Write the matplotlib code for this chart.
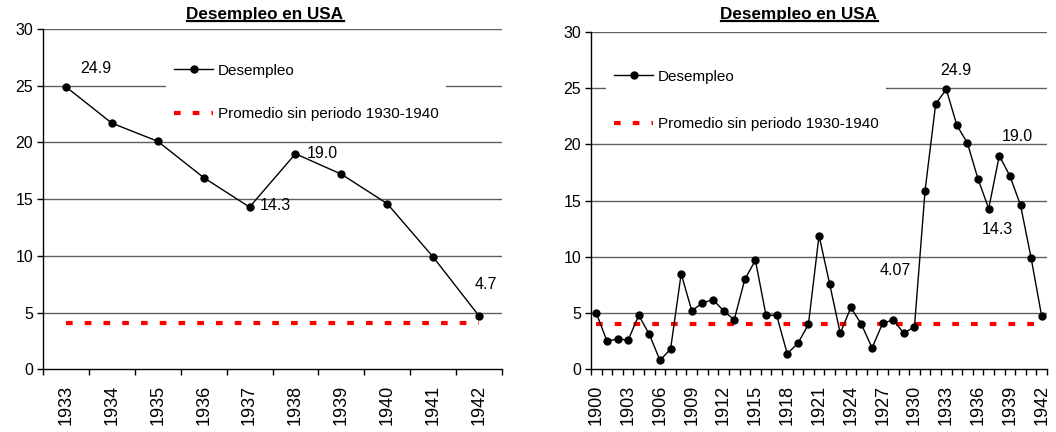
import matplotlib
matplotlib.use("Agg")
import matplotlib.pyplot as plt
from matplotlib.lines import Line2D

plt.rcParams['font.family'] = ['Liberation Sans', 'DejaVu Sans']

# datos
anios_izq = ["1933", "1934", "1935", "1936", "1937", "1938", "1939", "1940", "1941", "1942"]
desempleo_izq = [24.9, 21.7, 20.1, 16.9, 14.3, 19.0, 17.2, 14.6, 9.9, 4.7]

anios_der = [str(a) for a in range(1900, 1943)]
desempleo_der = [5.0, 2.5, 2.7, 2.6, 4.8, 3.1, 0.8, 1.8, 8.5, 5.2,
                 5.9, 6.2, 5.2, 4.4, 8.0, 9.7, 4.8, 4.8, 1.4, 2.3,
                 4.0, 11.9, 7.6, 3.2, 5.5, 4.0, 1.9, 4.1, 4.4, 3.2,
                 3.8, 15.9, 23.6, 24.9, 21.7, 20.1, 16.9, 14.3, 19.0, 17.2,
                 14.6, 9.9, 4.7]
promedio = 4.07

etiquetas_izq = [(0, "24.9"), (5, "19.0"), (4, "14.3"), (9, "4.7")]
etiquetas_der = [(33, "24.9"), (38, "19.0"), (37, "14.3")]

FS_Y = 11.5
FS_X = 13
FS_LEG = 11
FS_DAT = 11.5

fig = plt.figure(figsize=(10.56, 4.32), dpi=100)
ax1 = fig.add_axes([0.0407, 0.1451, 0.4347, 0.7878])
ax2 = fig.add_axes([0.5597, 0.1451, 0.4318, 0.7808])


def preparar(ax, cats, vals, paso, leg_anchor, spacing):
    n = len(cats)
    x = list(range(n))
    for g in range(5, 31, 5):
        ax.axhline(g, color='#606060', lw=1, zorder=1)
    ax.plot(x, vals, color='black', lw=1, marker='o', markersize=5,
            label='Desempleo', zorder=3)
    ax.plot([0, n - 1], [promedio, promedio], color='red', lw=3,
            dashes=[1.6, 2.9], label='Promedio sin periodo 1930-1940', zorder=2)
    ax.set_xlim(-0.5, n - 0.5)
    ax.set_ylim(0, 30)
    ax.set_yticks(range(0, 31, 5))
    ax.set_xticks(x[::paso])
    ax.set_xticklabels(cats[::paso], rotation=90)
    ax.set_xticks([i - 0.5 for i in range(n + 1)], minor=True)
    ax.tick_params(axis='x', which='major', length=0, pad=11, labelsize=FS_X)
    ax.tick_params(axis='x', which='minor', length=4, width=1, direction='out')
    ax.tick_params(axis='y', length=4, width=1, pad=3, labelsize=FS_Y)
    for s in ['top', 'right']:
        ax.spines[s].set_visible(False)
    for s in ['left', 'bottom']:
        ax.spines[s].set_linewidth(1)
    leg = ax.legend(loc='upper left', bbox_to_anchor=leg_anchor, borderaxespad=0,
                    frameon=True, fancybox=False, edgecolor='none', facecolor='white',
                    framealpha=1, fontsize=FS_LEG, handlelength=2.6, handletextpad=0.3,
                    labelspacing=spacing, borderpad=0.5)
    leg.set_zorder(4)


preparar(ax1, anios_izq, desempleo_izq, 1, (0.268, 0.921), 1.94)
preparar(ax2, anios_der, desempleo_der, 3, (0.033, 0.911), 2.2)

pos_izq = {0: (0.65, 26.5), 5: (5.58, 19.0), 4: (4.57, 14.4), 9: (9.15, 7.5)}
for i, t in etiquetas_izq:
    ax1.text(*pos_izq[i], t, ha='center', va='center', fontsize=FS_DAT, zorder=5)
pos_der = {33: (33.9, 26.6), 38: (39.7, 20.75), 37: (37.8, 12.45)}
for i, t in etiquetas_der:
    ax2.text(*pos_der[i], t, ha='center', va='center', fontsize=FS_DAT, zorder=5)
ax2.text(28.2, 8.8, "4.07", ha='center', va='center', fontsize=FS_DAT, zorder=5)

# titulos subrayados
titulos = []
for xc, yc in [(265 / 1056, 1 - 14 / 432), (799 / 1056, 1 - 14 / 432)]:
    titulos.append(fig.text(xc, yc, "Desempleo en USA", ha='center', va='center',
                            fontsize=12.3, fontweight='bold'))
fig.canvas.draw()
r = fig.canvas.get_renderer()
for t in titulos:
    bb = t.get_window_extent(r).transformed(fig.transFigure.inverted())
    yl = bb.y0 + 0.5 / 432
    fig.add_artist(Line2D([bb.x0, bb.x1], [yl, yl], transform=fig.transFigure,
                          color='black', lw=1.6))

fig.savefig("out.png", dpi=100)
